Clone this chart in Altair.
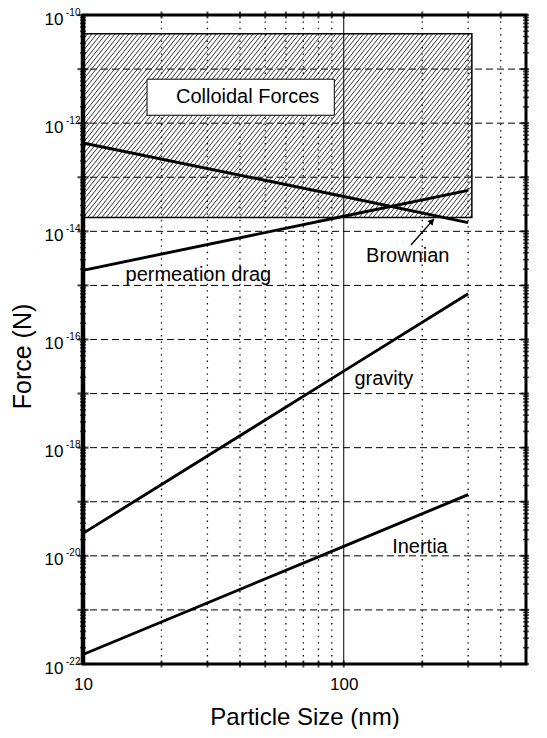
import math
import altair as alt
import numpy as np
import pandas as pd

# ---------------- data ----------------
sizes = [10, 100, 300]
brownian = [4.3e-13, 4.4e-14, 1.45e-14]
permeation = [1.9e-15, 1.9e-14, 5.7e-14]
gravity = [2.6e-20, 2.6e-17, 7.0e-16]
inertia = [1.5e-22, 1.5e-20, 1.35e-19]

x_label_values = [10, 100]
y_label_values = [1e-10, 1e-12, 1e-14, 1e-16, 1e-18, 1e-20, 1e-22]
y_exponents = ["-10", "-12", "-14", "-16", "-18", "-20", "-22"]
y_decades = [10.0 ** e for e in range(-21, -10)]
x_minor = [20, 30, 40, 50, 60, 70, 80, 90, 200, 300, 400]

colloid_x = [10, 310]
colloid_y = [1.8e-14, 4.5e-11]
colloid_box_x = [17.6, 92]
colloid_box_y = [1.4e-12, 6.5e-12]

labels_text = ["permeation drag", "Brownian", "gravity", "Inertia"]
labels_x = [27.7, 176, 142.5, 196]
labels_y = [1.53e-15, 3.44e-15, 1.9e-17, 1.48e-20]

arrow_x = [181, 222]
arrow_y = [5.6e-15, 1.7e-14]

# ---------------- layout ----------------
W, H = 443, 649
XD = [10, 500]
YD = [1e-22, 1e-10]
FONT = "Liberation Sans"

xs = alt.Scale(type="log", domain=XD, nice=False)
ys = alt.Scale(type="log", domain=YD, nice=False)

xaxis = alt.Axis(values=x_label_values, format="d", labelFontSize=17, labelPadding=12,
                 labelFlush=False, ticks=False, domain=False, grid=False,
                 title="Particle Size (nm)", titleFontSize=24, titleFontWeight="normal",
                 titleY=53, titleBaseline="middle", labelColor="black", titleColor="black")
yaxis = alt.Axis(values=y_label_values, labelExpr="'10'", labelFontSize=17, labelPadding=20,
                 labelOffset=4, labelFlush=False, ticks=False, domain=False, grid=False,
                 title="Force (N)", titleFontSize=25, titleFontWeight="normal",
                 titleX=-61, titleY=341, titleAngle=270, titleAlign="center",
                 titleBaseline="middle", labelColor="black", titleColor="black")


def X(f):
    return alt.X(f, type="quantitative", scale=xs, axis=xaxis)


def Y(f):
    return alt.Y(f, type="quantitative", scale=ys, axis=yaxis)


# pixel helpers for the hatch decoration
def x_to_px(x):
    return (math.log10(x) - math.log10(XD[0])) / (math.log10(XD[1]) - math.log10(XD[0])) * W


def y_to_py(y):
    return (math.log10(YD[1]) - math.log10(y)) / (math.log10(YD[1]) - math.log10(YD[0])) * H


def px_to_x(px):
    return 10 ** (math.log10(XD[0]) + px / W * (math.log10(XD[1]) - math.log10(XD[0])))


def py_to_y(py):
    return 10 ** (math.log10(YD[1]) - py / H * (math.log10(YD[1]) - math.log10(YD[0])))


x0p, x1p = x_to_px(colloid_x[0]), x_to_px(colloid_x[1])
ytp, ybp = y_to_py(colloid_y[1]), y_to_py(colloid_y[0])
hh = ybp - ytp
k = 0.8
pitch = 4.6
hatch = []
for c in np.arange(x0p - k * hh, x1p, pitch):
    s_lo = max(0.0, (x0p - c) / k)
    s_hi = min(hh, (x1p - c) / k)
    if s_hi > s_lo:
        hatch.append({
            "x": px_to_x(c + k * s_lo), "y": py_to_y(ybp - s_lo),
            "x2": px_to_x(c + k * s_hi), "y2": py_to_y(ybp - s_hi),
        })
hatch_df = pd.DataFrame(hatch)

# ---------------- layers ----------------
hgrid = alt.Chart(pd.DataFrame({"y": y_decades})).mark_rule(
    color="black", strokeWidth=1, strokeDash=[7, 4]).encode(y=Y("y"))

vgrid = alt.Chart(pd.DataFrame({"x": x_minor})).mark_rule(
    color="black", strokeWidth=1.3, strokeDash=[1.4, 5]).encode(x=X("x"))

v100 = alt.Chart(pd.DataFrame({"x": [100]})).mark_rule(
    color="black", strokeWidth=1).encode(x=X("x"))

hatch_layer = alt.Chart(hatch_df).mark_rule(color="#111", strokeWidth=0.85).encode(
    x=X("x"), y=Y("y"), x2="x2", y2="y2")

colloid_rect = alt.Chart(pd.DataFrame({
    "x": [colloid_x[0]], "x2": [colloid_x[1]], "y": [colloid_y[0]], "y2": [colloid_y[1]]
})).mark_rect(fill="white", fillOpacity=0, stroke="black", strokeWidth=1.5).encode(
    x=X("x"), x2="x2", y=Y("y"), y2="y2")

rows = []
for name, vals in [("Brownian", brownian), ("permeation drag", permeation),
                   ("gravity", gravity), ("Inertia", inertia)]:
    for s, v in zip(sizes, vals):
        rows.append({"series": name, "x": s, "y": v})
lines = alt.Chart(pd.DataFrame(rows)).mark_line(color="black", strokeWidth=2.9).encode(
    x=X("x"), y=Y("y"), detail="series:N")

box = alt.Chart(pd.DataFrame({
    "x": [colloid_box_x[0]], "x2": [colloid_box_x[1]],
    "y": [colloid_box_y[0]], "y2": [colloid_box_y[1]]
})).mark_rect(fill="white", stroke="black", strokeWidth=1).encode(
    x=X("x"), x2="x2", y=Y("y"), y2="y2")

box_text = alt.Chart(pd.DataFrame({"x": [42.8], "y": [3.0e-12], "t": ["Colloidal Forces"]})).mark_text(
    font=FONT, fontSize=20, color="black", align="center", baseline="middle").encode(
    x=X("x"), y=Y("y"), text="t:N")

texts = alt.Chart(pd.DataFrame({"x": labels_x, "y": labels_y, "t": labels_text})).mark_text(
    font=FONT, fontSize=20, color="black", align="center", baseline="middle").encode(
    x=X("x"), y=Y("y"), text="t:N")

arrow_line = alt.Chart(pd.DataFrame({
    "x": [arrow_x[0]], "x2": [arrow_x[1]], "y": [arrow_y[0]], "y2": [arrow_y[1]]
})).mark_rule(color="black", strokeWidth=1.4).encode(x=X("x"), y=Y("y"), x2="x2", y2="y2")

arrow_head = alt.Chart(pd.DataFrame({"x": [218], "y": [1.55e-14]})).mark_point(
    shape="triangle-up", angle=42, size=50, filled=True, color="black", opacity=1).encode(
    x=X("x"), y=Y("y"))

# axis ticks (inward)
y_minor = [m * 10.0 ** e for e in range(-22, -10) for m in range(2, 10)]
y_major = [10.0 ** e for e in range(-22, -9)]
tick_layers = []
for xv in [0, W]:
    tick_layers.append(alt.Chart(pd.DataFrame({"y": y_minor})).mark_tick(
        color="black", size=6, thickness=1.6).encode(y=Y("y"), x=alt.value(xv)))
    tick_layers.append(alt.Chart(pd.DataFrame({"y": y_major})).mark_tick(
        color="black", size=11, thickness=2.2).encode(y=Y("y"), x=alt.value(xv)))
for yv in [0, H]:
    tick_layers.append(alt.Chart(pd.DataFrame({"x": x_minor + [100]})).mark_tick(
        color="black", size=7, thickness=2).encode(x=X("x"), y=alt.value(yv)))

# plot frame
frame = alt.Chart(pd.DataFrame({"f": [0]})).mark_rect(
    fill="white", fillOpacity=0, stroke="black", strokeWidth=3).encode(
    x=alt.value(0), x2=alt.value(W), y=alt.value(0), y2=alt.value(H))
left_edge = alt.Chart(pd.DataFrame({"f": [0]})).mark_rule(
    color="black", strokeWidth=4.5).encode(
    x=alt.value(0), y=alt.value(0), y2=alt.value(H))

exps = alt.Chart(pd.DataFrame({"y": y_label_values, "t": y_exponents})).mark_text(
    font=FONT, fontSize=10, color="black", align="left", baseline="middle", dx=-17, dy=-2.5).encode(
    y=Y("y"), x=alt.value(0), text="t:N")

chart = alt.layer(
    hgrid, vgrid, v100, hatch_layer, colloid_rect, lines, box, box_text, texts,
    arrow_line, arrow_head, *tick_layers, frame, left_edge, exps
).properties(
    width=W, height=H,
    autosize=alt.AutoSizeParams(type="none"),
    padding={"left": 75, "top": 7, "right": 3, "bottom": 65},
).configure_view(
    stroke=None
).configure_axis(
    labelFont=FONT, titleFont=FONT
).configure(background="white")

chart.save("out.html", embed_options={"renderer": "svg", "actions": False})
